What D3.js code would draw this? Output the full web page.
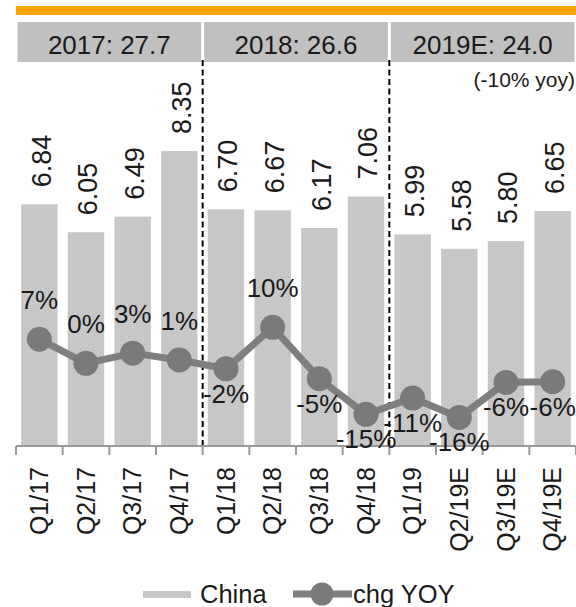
<!DOCTYPE html>
<html>
<head>
<meta charset="utf-8">
<script src="https://cdn.jsdelivr.net/npm/d3@7"></script>
<style>
  html, body { margin: 0; padding: 0; background: #ffffff; }
  svg { display: block; font-family: "Liberation Sans", Arial, sans-serif; }
</style>
</head>
<body>
<svg id="chart" width="576" height="607"></svg>
<script>
// ---- Data ----
const quarters = ["Q1/17", "Q2/17", "Q3/17", "Q4/17", "Q1/18", "Q2/18", "Q3/18", "Q4/18", "Q1/19", "Q2/19E", "Q3/19E", "Q4/19E"];
const chinaValues = [6.84, 6.05, 6.49, 8.35, 6.70, 6.67, 6.17, 7.06, 5.99, 5.58, 5.80, 6.65];
const yoyValues = [6.7, -0.4, 2.6, 0.6, -2.0, 10.2, -4.9, -15.4, -10.6, -16.3, -6.0, -5.8];
const yoyLabelSide = ["above", "above", "above", "above", "below", "above", "below", "below", "below", "below", "below", "below"];
const yearHeaders = ["2017: 27.7", "2018: 26.6", "2019E: 24.0"];
const yearStartIndex = [0, 4, 8];
const yearEndIndex = [4, 8, 12];
const yearNote = "(-10% yoy)";
const legendLabels = ["China", "chg YOY"];

// ---- Setup ----
const W = 576, H = 607;
const svg = d3.select("#chart");
const x = d3.scaleBand().domain(quarters).range([16, 576]).paddingInner(0.22).paddingOuter(0.11);
const step = x.step();
const x0 = 16;
const boundary = i => x0 + step * i;
const yBar = d3.scaleLinear().domain([0, 12]).range([446, 22]);
const yLine = d3.scaleLinear().domain([-25, 100]).range([447, 22]);

const barColor = "#c7c7c7";
const lineColor = "#7f7f7f";
const textColor = "#1a1a1a";

// pattern for stippled bars
const defs = svg.append("defs");
const pat = defs.append("pattern").attr("id", "stipple").attr("patternUnits", "userSpaceOnUse")
  .attr("width", 4).attr("height", 4);
pat.append("rect").attr("width", 4).attr("height", 4).attr("fill", "#c9c9c9");
pat.append("rect").attr("x", 0).attr("y", 0).attr("width", 1).attr("height", 1).attr("fill", "#b9b9b9");
pat.append("rect").attr("x", 2).attr("y", 2).attr("width", 1).attr("height", 1).attr("fill", "#bdbdbd");

// orange top band
svg.append("rect").attr("x", 16).attr("y", 6).attr("width", W - 16).attr("height", 9).attr("fill", "#ffa500");

// year header boxes
yearHeaders.forEach((t, k) => {
  const left = boundary(yearStartIndex[k]) + 1.5;
  const right = Math.min(boundary(yearEndIndex[k]) - 1.5, W);
  svg.append("rect").attr("x", left).attr("y", 22).attr("width", right - left).attr("height", 40)
    .attr("fill", "#c0c0c0");
  svg.append("text").attr("x", (left + right) / 2).attr("y", 54).attr("text-anchor", "middle")
    .attr("font-size", 26).attr("fill", textColor).text(t);
});
svg.append("text").attr("x", 575).attr("y", 87).attr("text-anchor", "end")
  .attr("font-size", 21).attr("fill", textColor).text(yearNote);

// bars
svg.append("g").selectAll("rect").data(quarters).join("rect")
  .attr("x", d => x(d))
  .attr("y", (d, i) => yBar(chinaValues[i]))
  .attr("width", x.bandwidth())
  .attr("height", (d, i) => yBar(0) - yBar(chinaValues[i]))
  .attr("fill", "url(#stipple)");

// bar value labels
svg.append("g").selectAll("text").data(quarters).join("text")
  .attr("transform", (d, i) => `translate(${x(d) + x.bandwidth() / 2},${yBar(chinaValues[i]) - 17}) rotate(-90)`)
  .attr("dy", "0.42em")
  .attr("text-anchor", "start")
  .attr("font-size", 27)
  .attr("fill", textColor)
  .text((d, i) => d3.format(".2f")(chinaValues[i]));

// dashed year separators
yearStartIndex.slice(1).forEach(i => {
  svg.append("line").attr("x1", boundary(i)).attr("x2", boundary(i)).attr("y1", 60).attr("y2", 446)
    .attr("stroke", "#000").attr("stroke-width", 2).attr("stroke-dasharray", "6,3.5");
});

// x axis
const axisG = svg.append("g");
axisG.append("line").attr("x1", boundary(0)).attr("x2", boundary(12)).attr("y1", 446).attr("y2", 446)
  .attr("stroke", "#9a9a9a").attr("stroke-width", 2);
d3.range(13).forEach(i => {
  axisG.append("line").attr("x1", boundary(i)).attr("x2", boundary(i)).attr("y1", 446).attr("y2", 455)
    .attr("stroke", "#9a9a9a").attr("stroke-width", 2);
});
axisG.selectAll("text.xl").data(quarters).join("text").attr("class", "xl")
  .attr("transform", d => `translate(${x(d) + x.bandwidth() / 2},467) rotate(-90)`)
  .attr("dy", "0.35em")
  .attr("text-anchor", "end")
  .attr("font-size", 25)
  .attr("fill", textColor)
  .text(d => d);

// line
const cx = d => x(d) + x.bandwidth() / 2;
const line = d3.line().x(d => cx(d)).y((d, i) => yLine(yoyValues[i]));
svg.append("path").datum(quarters).attr("d", line).attr("fill", "none")
  .attr("stroke", lineColor).attr("stroke-width", 7).attr("stroke-linejoin", "round");
svg.append("g").selectAll("circle").data(quarters).join("circle")
  .attr("cx", d => cx(d)).attr("cy", (d, i) => yLine(yoyValues[i])).attr("r", 12.5)
  .attr("fill", "#7a7a7a");

// line labels
const pct = v => { const r = Math.round(v); return (r === 0 ? "0" : String(r)) + "%"; };
svg.append("g").selectAll("text").data(quarters).join("text")
  .attr("x", d => cx(d))
  .attr("y", (d, i) => yLine(yoyValues[i]) + (yoyLabelSide[i] === "above" ? -30 : 34))
  .attr("text-anchor", "middle")
  .attr("font-size", 26)
  .attr("fill", textColor)
  .text((d, i) => pct(yoyValues[i]));

// legend
const lg = svg.append("g");
lg.append("rect").attr("x", 143).attr("y", 591).attr("width", 48).attr("height", 7).attr("fill", "url(#stipple)");
lg.append("text").attr("x", 200).attr("y", 603).attr("font-size", 25.5).attr("fill", textColor).text(legendLabels[0]);
lg.append("line").attr("x1", 293).attr("x2", 352).attr("y1", 594).attr("y2", 594)
  .attr("stroke", lineColor).attr("stroke-width", 7);
lg.append("circle").attr("cx", 322).attr("cy", 594).attr("r", 11.5).attr("fill", "#7a7a7a");
lg.append("text").attr("x", 353).attr("y", 603).attr("font-size", 25.5).attr("fill", textColor).text(legendLabels[1]);
</script>
</body>
</html>
